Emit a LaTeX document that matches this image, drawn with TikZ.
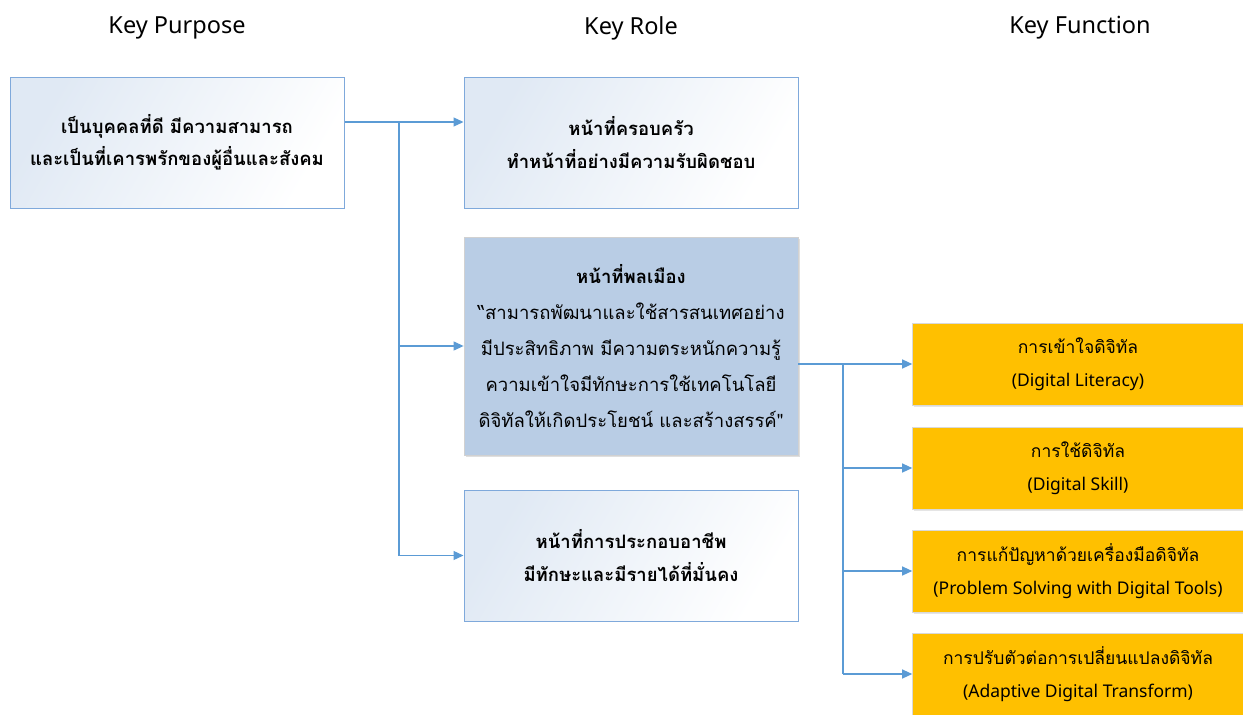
\documentclass[tikz,border=0pt]{standalone}
\usepackage{fontspec}
\setmainfont{Noto Sans}
\newfontfamily\thai[Script=Thai]{Loma}
\newfontfamily\latinf{Noto Sans}
\usetikzlibrary{arrows.meta,shadows,calc}
\definecolor{linkblue}{HTML}{5B9BD5}
\definecolor{edgeblue}{HTML}{7FA9DB}
\definecolor{steel}{HTML}{B9CDE5}
\definecolor{gold}{HTML}{FFC000}
\definecolor{paleblue}{HTML}{E0E9F4}
\tikzset{
  header/.style={font=\latinf\fontsize{23.5}{28}\selectfont, text=black},
  whitebox/.style={draw=edgeblue, line width=1pt, minimum width=334pt, minimum height=131pt,
    inner sep=0pt, left color=paleblue, right color=white, shading angle=60,
    align=center, font=\thai\bfseries\fontsize{18.5}{32.5}\selectfont},
  citizenbox/.style={draw=black!18, line width=0.8pt, fill=steel, minimum width=334pt, minimum height=218pt,
    inner sep=0pt, align=center, font=\thai\fontsize{18.5}{36}\selectfont,
    drop shadow={opacity=0.25, shadow xshift=1.5pt, shadow yshift=-1.5pt}},
  goldbox/.style={draw=black!15, line width=0.6pt, fill=gold, minimum width=331pt, minimum height=82pt,
    inner sep=0pt, align=center, font=\fontsize{17.5}{33}\selectfont,
    drop shadow={opacity=0.2, shadow xshift=1.5pt, shadow yshift=-1.5pt}},
  conn/.style={draw=linkblue, line width=1.2pt},
  arr/.style={conn, -{Triangle[length=10pt,width=9pt]}}
}
\begin{document}
\begin{tikzpicture}[x=1pt,y=-1pt]
\useasboundingbox[fill=white] (0,0) rectangle (1243,715);

% column headings
\node[header] (h1) at (177,28) {Key Purpose};
\node[header] (h2) at (631,28) {Key Role};
\node[header] (h3) at (1080,28) {Key Function};

% key purpose
\node[whitebox] (A) at (177,142.5) {เป็นบุคคลที่ดี มีความสามารถ\\และเป็นที่เคารพรักของผู้อื่นและสังคม};

% key roles
\node[whitebox] (B1) at (631,142.5) {หน้าที่ครอบครัว\\ทำหน้าที่อย่างมีความรับผิดชอบ};
\node[citizenbox] (B2) at (631,346) {{\bfseries หน้าที่พลเมือง}\\“สามารถพัฒนาและใช้สารสนเทศอย่าง\\มีประสิทธิภาพ มีความตระหนักความรู้\\ความเข้าใจมีทักษะการใช้เทคโนโลยี\\ดิจิทัลให้เกิดประโยชน์ และสร้างสรรค์"};
\node[whitebox] (B3) at (631,555.5) {หน้าที่การประกอบอาชีพ\\มีทักษะและมีรายได้ที่มั่นคง};

% key functions
\node[goldbox] (Y1) at (1078,364) {{\thai การเข้าใจดิจิทัล}\\{\latinf (Digital Literacy)}};
\node[goldbox] (Y2) at (1078,468) {{\thai การใช้ดิจิทัล}\\{\latinf (Digital Skill)}};
\node[goldbox] (Y3) at (1078,571) {{\thai การแก้ปัญหาด้วยเครื่องมือดิจิทัล}\\{\latinf (Problem Solving with Digital Tools)}};
\node[goldbox] (Y4) at (1078,674) {{\thai การปรับตัวต่อการเปลี่ยนแปลงดิจิทัล}\\{\latinf (Adaptive Digital Transform)}};

% purpose -> roles
\coordinate (a1) at ([yshift=20.5pt]A.east);
\coordinate (j1) at (399,0);
\draw[arr] (a1) -- (a1 -| B1.west);
\draw[conn] (j1 |- a1) -- (j1 |- B3.west);
\draw[arr] (j1 |- B2.west) -- (B2.west);
\draw[arr] (j1 |- B3.west) -- (B3.west);

% citizen role -> functions
\coordinate (j2) at (843,0);
\draw[arr] (B2.east |- Y1.west) -- (Y1.west);
\draw[conn] (j2 |- Y1.west) -- (j2 |- Y4.west);
\draw[arr] (j2 |- Y2.west) -- (Y2.west);
\draw[arr] (j2 |- Y3.west) -- (Y3.west);
\draw[arr] (j2 |- Y4.west) -- (Y4.west);
\end{tikzpicture}
\end{document}
